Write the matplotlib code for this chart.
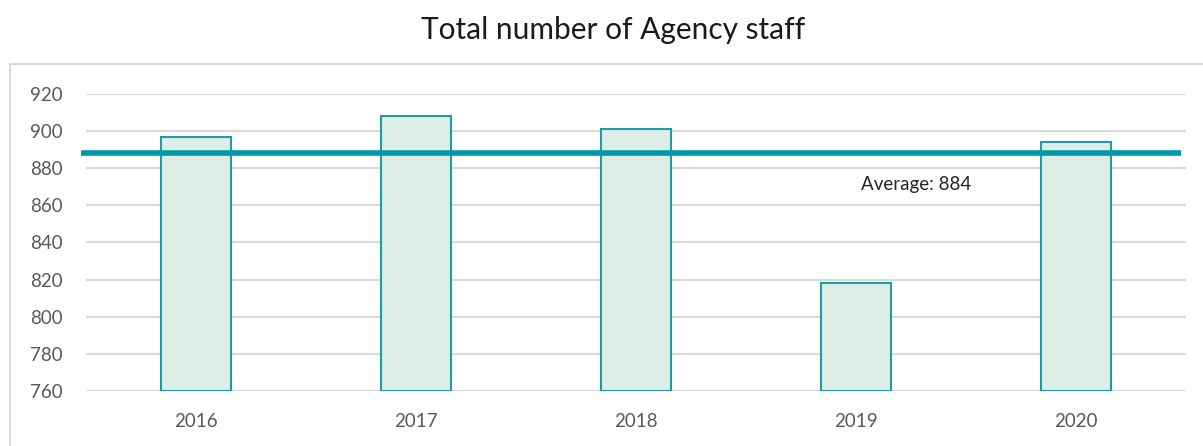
import matplotlib
matplotlib.use('Agg')
import matplotlib.pyplot as plt
from matplotlib.patches import Rectangle

# データ
years = ['2016', '2017', '2018', '2019', '2020']
staff = [897, 908, 901, 818, 894]
avg_line = 888
avg_label = 'Average: 884'
yticks = [760, 780, 800, 820, 840, 860, 880, 900, 920]

plt.rcParams['font.family'] = ['Lato', 'DejaVu Sans']

fig = plt.figure(figsize=(12.03, 4.46), dpi=100)
ax = fig.add_axes([86 / 1203, 1 - 391 / 446, 1100 / 1203, 297 / 446])

# 外枠
fig.patches.append(Rectangle((10 / 1203, -0.2), 1.2, 1.2 - 64 / 446,
                             transform=fig.transFigure, fill=False,
                             edgecolor='#d9d9d9', lw=1.5))

x = range(len(years))
ax.bar(x, [v - 760 for v in staff], bottom=760, width=0.32,
       color='#ddeee8', edgecolor='#1e9ba7', lw=1.5, zorder=2)

ax.plot([-0.523, 4.477], [avg_line, avg_line], color='#0097a7', lw=4, zorder=3,
        clip_on=False, solid_capstyle='butt')
ax.text(3.273, 871.5, avg_label, ha='center', va='center', fontsize=13.5,
        color='#262626')

ax.set_xlim(-0.5, 4.5)
ax.set_ylim(760, 920)
ax.set_yticks(yticks)
ax.set_xticks(list(x))
ax.set_xticklabels(years)
ax.grid(axis='y', color='#d9d9d9', lw=1.5, zorder=0)
ax.set_axisbelow(True)
for s in ax.spines.values():
    s.set_visible(False)
ax.tick_params(axis='both', length=0, labelsize=13.5, labelcolor='#595959')
ax.tick_params(axis='y', pad=17)
ax.tick_params(axis='x', pad=16)

fig.text(613 / 1203, 1 - 30 / 446, 'Total number of Agency staff', ha='center',
         va='center', fontsize=21.5, color='#1a1a1a')

fig.savefig('out.png', dpi=100)
